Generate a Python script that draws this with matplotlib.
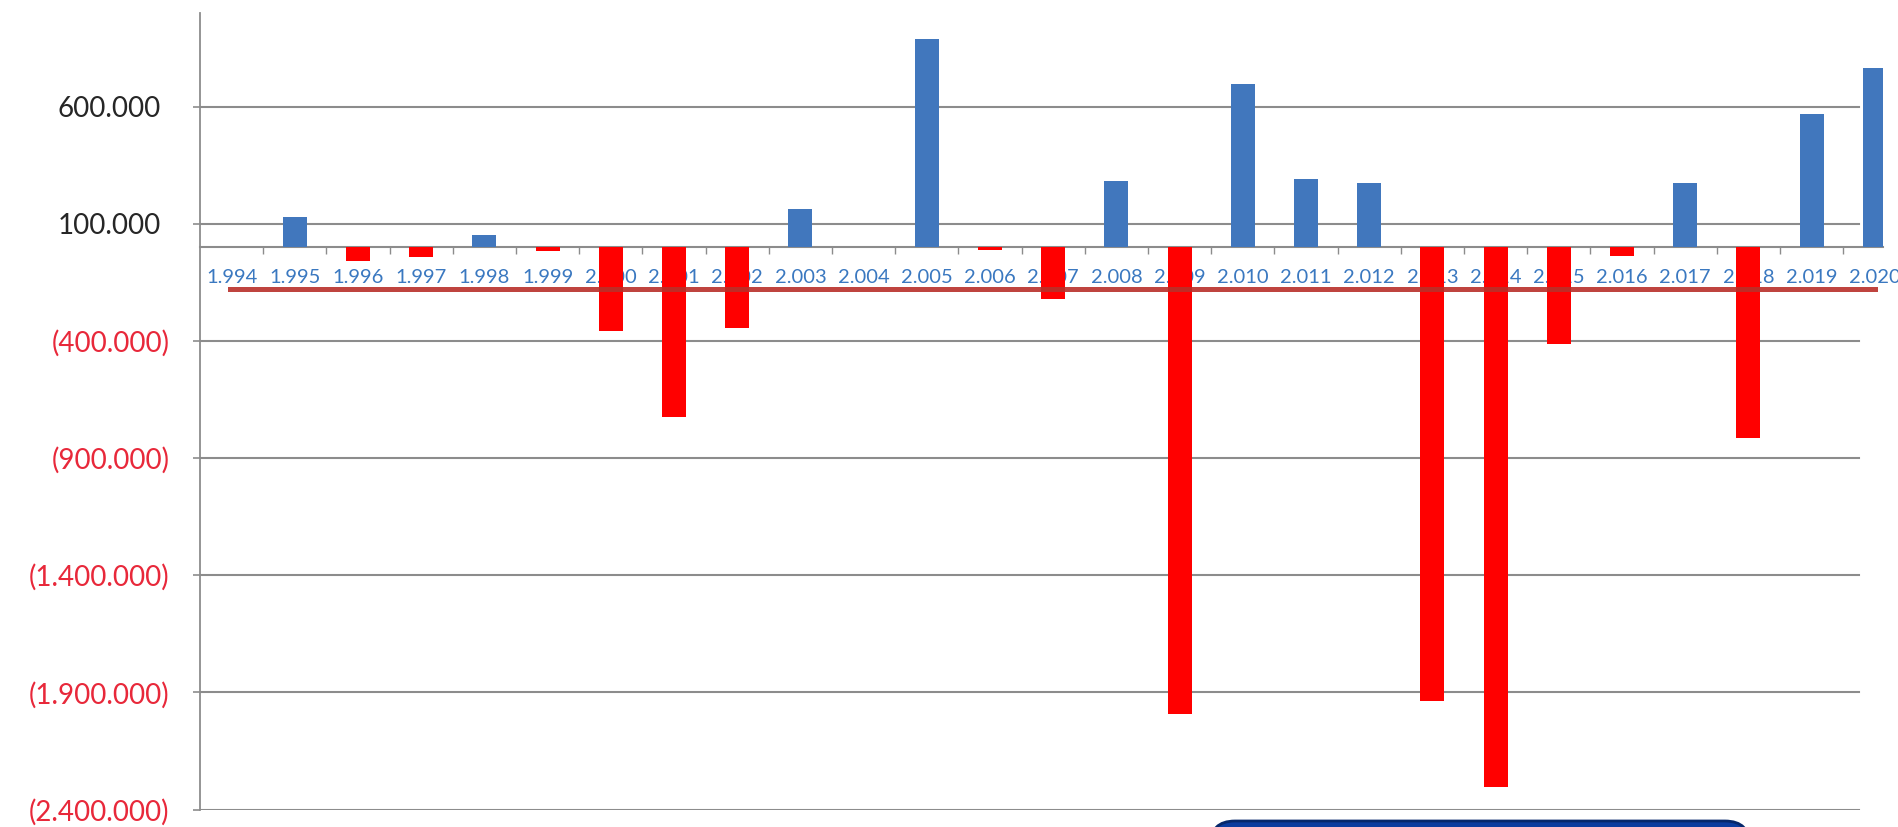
import numpy as np
import matplotlib.pyplot as plt
from matplotlib.lines import Line2D
from matplotlib.patches import FancyBboxPatch

plt.rcParams['font.family'] = ['Lato', 'DejaVu Sans']

years = ["1.994", "1.995", "1.996", "1.997", "1.998", "1.999", "2.000", "2.001", "2.002",
         "2.003", "2.004", "2.005", "2.006", "2.007", "2.008", "2.009", "2.010", "2.011",
         "2.012", "2.013", "2.014", "2.015", "2.016", "2.017", "2.018", "2.019", "2.020"]
values = [0, 130000, -60000, -43000, 52000, -15000, -357000, -724000, -343000,
          165000, 0, 890000, -10000, -219000, 281000, -1993000, 697000, 291000,
          274000, -1936000, -2304000, -414000, -38000, 274000, -814000, 567000, 767000]
yticks = [600000, 100000, -400000, -900000, -1400000, -1900000, -2400000]

blue = "#4177bd"
red = "#ff0000"
grey = "#8c8c8c"

def fmt(v):
    s = f"{abs(v):,.0f}".replace(",", ".")
    return s if v >= 0 else "(" + s + ")"

fig = plt.figure(figsize=(18.99, 8.27), dpi=100)
ax = fig.add_axes([200/1899, 17.5/827, 1683/1899, 796.5/827])

x = np.arange(len(values))
cols = [blue if v >= 0 else red for v in values]
ax.bar(x, values, width=0.38, color=cols, zorder=3)

ax.set_ylim(-2400000, 1000000)
ax.set_xlim(-0.5, 26.13)

# gridlines stop a bit before the right edge
for t in yticks:
    ax.axhline(t, xmax=0.986, color=grey, lw=1.5, zorder=1)

ax.spines['top'].set_visible(False)
ax.spines['right'].set_visible(False)
ax.spines['bottom'].set_position(('data', 0))
ax.spines['bottom'].set_color(grey)
ax.spines['bottom'].set_linewidth(1.5)
ax.spines['left'].set_color(grey)
ax.spines['left'].set_linewidth(1.3)

ax.set_yticks(yticks)
ax.set_yticklabels([fmt(t) for t in yticks])
ax.tick_params(axis='y', length=5, width=1.2, color=grey, labelsize=20, pad=17)
for tick, lab, t in zip(ax.yaxis.get_major_ticks(), ax.get_yticklabels(), yticks):
    if t >= 0:
        lab.set_color("#262626")
        tick.set_pad(23)
    else:
        lab.set_color("#e8283a")

# category boundaries get the tick marks, centres get the labels
ax.set_xticks(np.arange(0.5, 26, 1))
ax.set_xticklabels([])
ax.tick_params(axis='x', which='major', length=5, width=1, color=grey, direction='out')
ax.set_xticks(x, minor=True)
ax.set_xticklabels(years, minor=True)
ax.tick_params(axis='x', which='minor', length=0, labelsize=14.5, labelcolor="#3a78c0", pad=16)

# dark red stroke across the label row
fig.add_artist(Line2D([230/1899, 1875/1899], [(827-289.3)/827, (827-289.3)/827],
                      color="#b8302a", lw=3.6, alpha=0.9, transform=fig.transFigure))

# blue rounded box peeking in at the bottom
fig.add_artist(FancyBboxPatch((12.10, -0.5), 5.40, 0.56,
                              boxstyle="round,pad=0,rounding_size=0.25",
                              facecolor="#0b3c9e", edgecolor="#06286b", lw=2,
                              transform=fig.dpi_scale_trans))

plt.savefig("out.png", dpi=100)
